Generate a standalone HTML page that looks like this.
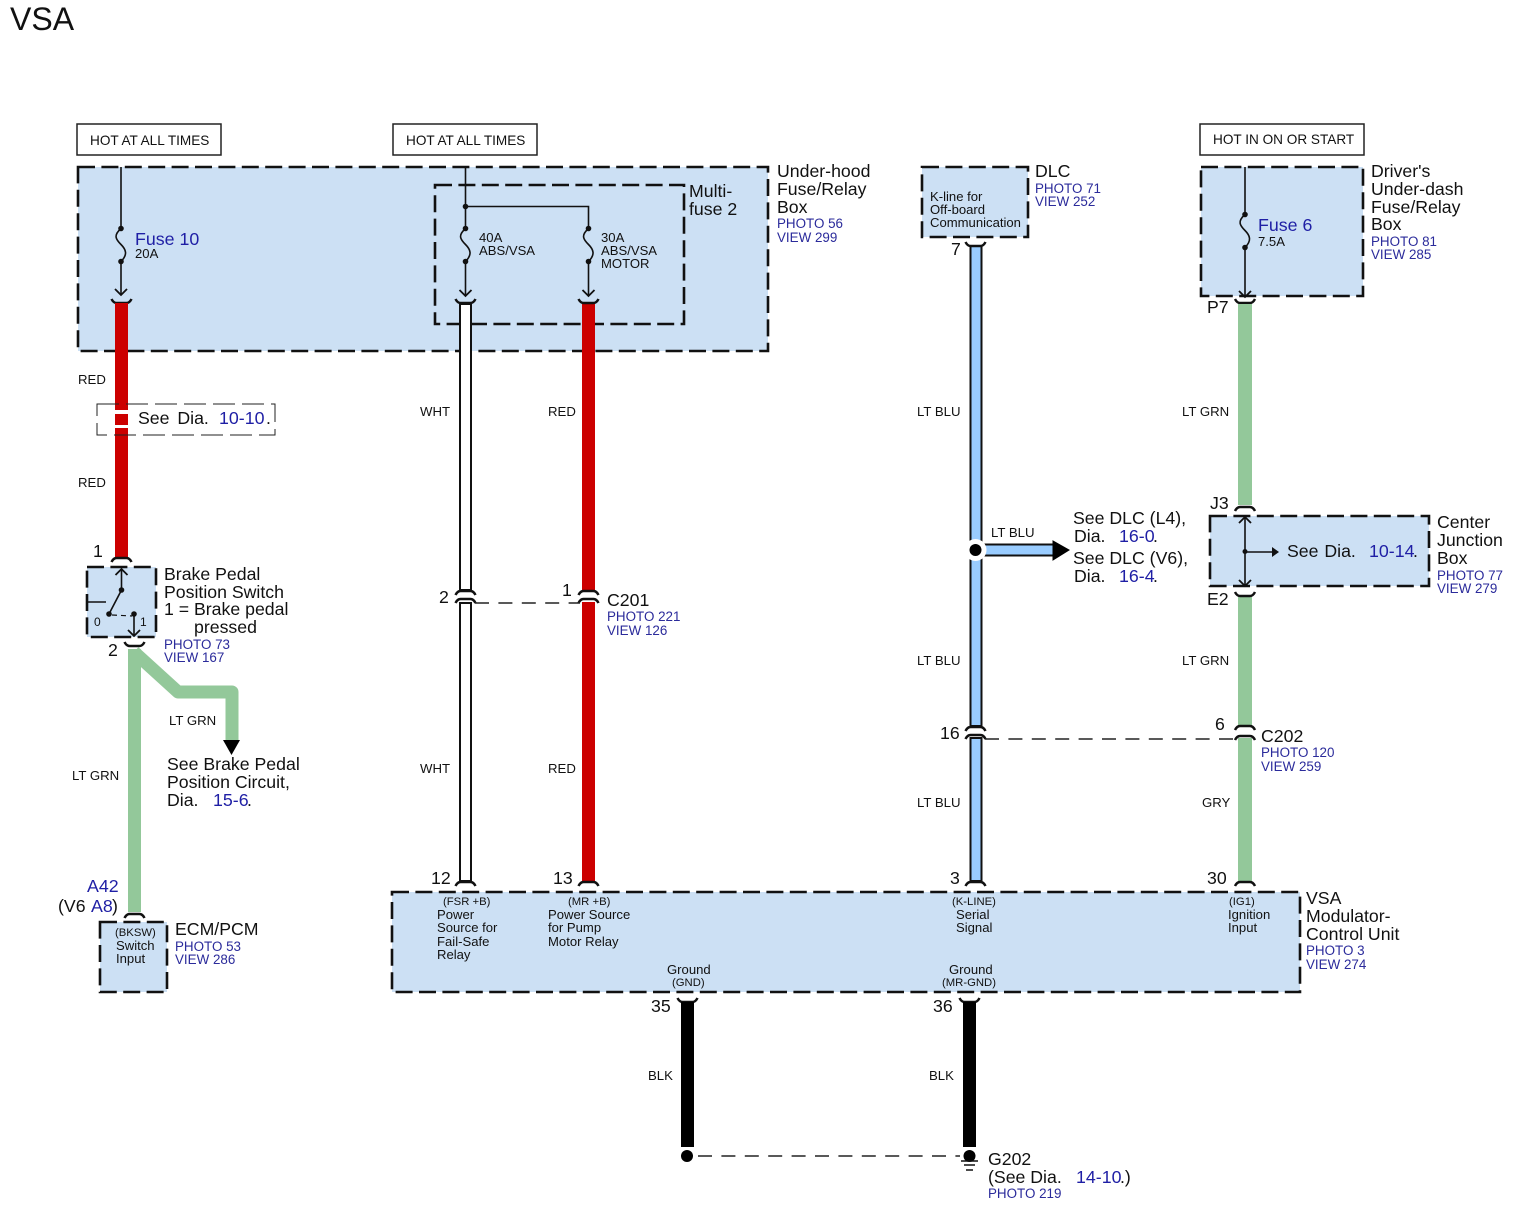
<!DOCTYPE html>
<html><head><meta charset="utf-8"><style>
html,body{margin:0;padding:0;background:#fff}
svg{display:block}
text{font-family:"Liberation Sans",sans-serif;fill:#111}
.l{font-size:17.7px}
.n{font-size:17.7px}
.p{font-size:13.4px;fill:#2b2b9b}
.w{font-size:13.2px}
.h{font-size:13.6px}
.s{font-size:13.1px}
.t{font-size:11.3px}
.b{fill:#1f1fa5;font-size:17.8px}
.box{fill:#cce0f4;stroke:#111;stroke-width:2.6;stroke-dasharray:17 6.4}
.open{fill:none;stroke:#111;stroke-width:2.6;stroke-dasharray:17 6.4}
.ln{fill:none;stroke:#111;stroke-width:1.6}
.dash{fill:none;stroke:#222;stroke-width:1.6;stroke-dasharray:14 9.4}
.cap{fill:none;stroke:#111;stroke-width:2.5}
</style></head><body>
<svg width="1519" height="1207" viewBox="0 0 1519 1207" xmlns="http://www.w3.org/2000/svg">
<defs>
<path id="sm" class="cap" d="M-10 -3Q-8 1 -5 1H5Q8 1 10 -3"/>
<path id="fr" class="cap" d="M-10 3Q-8 -1 -5 -1H5Q8 -1 10 3"/>
<g id="fuse"><circle cx="0" cy="0" r="2.8" fill="#111"/><circle cx="0" cy="33" r="2.8" fill="#111"/><path class="ln" d="M0 0C-8 7 -5 11 0 16C5 21 7 26 0 33"/></g>
<path id="ah" d="M-6 -6L0 0L6 -6" fill="none" stroke="#111" stroke-width="1.8"/>
</defs>
<text x="10" y="30" style="font-size:32px">VSA</text>

<!-- Header boxes -->
<rect x="77" y="124" width="144" height="31" fill="#fff" stroke="#222" stroke-width="1.5"/>
<text class="h" x="90" y="145">HOT AT ALL TIMES</text>
<rect x="393" y="124" width="144" height="31" fill="#fff" stroke="#222" stroke-width="1.5"/>
<text class="h" x="406" y="145">HOT AT ALL TIMES</text>
<rect x="1200" y="124" width="164" height="31" fill="#fff" stroke="#222" stroke-width="1.5"/>
<text class="h" x="1213" y="144">HOT IN ON OR START</text>

<!-- Boxes -->
<rect class="box" x="78" y="167" width="690" height="184"/>
<rect class="open" x="435" y="185" width="249" height="139"/>
<rect class="box" x="922" y="167" width="106" height="70"/>
<rect class="box" x="1201" y="167" width="162" height="129"/>
<rect class="box" x="1210" y="516" width="219" height="70"/>
<rect class="box" x="87" y="567" width="69" height="70"/>
<rect class="box" x="100" y="922" width="67" height="70"/>
<rect class="box" x="392" y="892" width="908" height="100"/>

<!-- Fuse 10 -->
<path class="ln" d="M121 167V228M121 262V295"/><use href="#fuse" x="121" y="228.500"/><use href="#ah" x="121" y="295"/>
<text x="135" y="245" class="b">Fuse 10</text>
<text class="s" x="135" y="258">20A</text>
<use href="#sm" x="121.500" y="302"/>
<!-- Red wire 1 -->
<rect x="115" y="303" width="13" height="255" fill="#cc0000"/>
<rect x="113" y="410" width="17" height="4" fill="#fff"/>
<rect x="113" y="425" width="17" height="3" fill="#fff"/>
<path d="M97 404H275V435H97Z" fill="none" stroke="#222" stroke-width="1" stroke-dasharray="22 7"/>
<rect x="131" y="408" width="140" height="22" fill="#fff"/>
<text class="n" x="138" y="424" word-spacing="3">See Dia.</text><text x="219" y="424" class="b">10-10</text><text class="n" x="266" y="424">.</text>
<text class="w" x="78" y="384">RED</text>
<text class="w" x="78" y="487">RED</text>

<!-- Multi-fuse wiring -->
<path class="ln" d="M465.500 167V228M465.500 262V296M465.500 206.500H588.500V228M588.500 262V296"/>
<circle cx="465.500" cy="206.500" r="2.800" fill="#111"/>
<use href="#fuse" x="465.500" y="228.500"/><use href="#fuse" x="588.500" y="228.500"/>
<use href="#ah" x="465.500" y="296"/><use href="#ah" x="588.500" y="296"/>
<text class="s" x="479" y="242">40A</text><text class="s" x="479" y="255">ABS/VSA</text>
<text class="s" x="601" y="242">30A</text><text class="s" x="601" y="255">ABS/VSA</text><text class="s" x="601" y="268">MOTOR</text>
<text class="l" x="689" y="197">Multi-</text><text class="l" x="689" y="215">fuse 2</text>
<text class="l" x="777" y="177">Under-hood</text><text class="l" x="777" y="195">Fuse/Relay</text><text class="l" x="777" y="213">Box</text>
<text class="p" x="777" y="228">PHOTO 56</text><text class="p" x="777" y="242">VIEW 299</text>

<!-- White wire -->
<rect x="460" y="304" width="11" height="286" fill="#fff" stroke="#111" stroke-width="2"/>
<rect x="460" y="603" width="11" height="278" fill="#fff" stroke="#111" stroke-width="2"/>
<use href="#sm" x="465.500" y="302"/><use href="#fr" x="465.500" y="592"/><use href="#fr" x="465.500" y="600"/><use href="#fr" x="465.500" y="883"/>
<!-- Red wire 2 -->
<rect x="582" y="303" width="13" height="287" fill="#cc0000"/>
<rect x="582" y="602" width="13" height="279" fill="#cc0000"/>
<use href="#sm" x="588.500" y="302"/><use href="#fr" x="588.500" y="592"/><use href="#fr" x="588.500" y="600"/><use href="#fr" x="588.500" y="883"/>
<path class="dash" d="M475 603H580"/>
<text class="n" x="439" y="603">2</text><text class="n" x="562" y="596">1</text>
<text class="l" x="607" y="606">C201</text><text class="p" x="607" y="621">PHOTO 221</text><text class="p" x="607" y="635">VIEW 126</text>
<text class="w" x="420" y="416">WHT</text><text class="w" x="548" y="416">RED</text>
<text class="w" x="420" y="773">WHT</text><text class="w" x="548" y="773">RED</text>
<text class="n" x="431" y="884">12</text><text class="n" x="553" y="884">13</text>

<!-- Brake switch -->
<use href="#fr" x="121.500" y="559"/>
<text class="n" x="93" y="557">1</text>
<path class="ln" d="M121.500 569V590L109 614M88 602H106M134 614V636"/>
<path d="M115.500 575L121.500 569L127.500 575M128 630L134 636L140 630" fill="none" stroke="#111" stroke-width="1.800"/>
<circle cx="121.500" cy="590" r="2.800" fill="#111"/><circle cx="109" cy="614" r="2.800" fill="#111"/><circle cx="134" cy="614" r="2.800" fill="#111"/>
<path d="M112 615L132 616" fill="none" stroke="#111" stroke-width="1.200" stroke-dasharray="5 4"/>
<text x="94" y="626" style="font-size:12px">0</text><text x="140" y="626" style="font-size:12px">1</text>
<text class="l" x="164" y="580">Brake Pedal</text><text class="l" x="164" y="598">Position Switch</text><text class="l" x="164" y="615">1 = Brake pedal</text><text class="l" x="194" y="633">pressed</text>
<text class="p" x="164" y="649">PHOTO 73</text><text class="p" x="164" y="662">VIEW 167</text>
<text class="n" x="108" y="656">2</text>
<use href="#sm" x="134.500" y="645"/>
<!-- Green left -->
<rect x="128" y="649" width="13" height="263" fill="#93c89a"/>
<path d="M134 652L178 692H232V742" fill="none" stroke="#93c89a" stroke-width="13" stroke-linejoin="round"/>
<path d="M223 740H240L231.500 755Z" fill="#000"/>
<text class="w" x="169" y="725">LT GRN</text><text class="w" x="72" y="780">LT GRN</text>
<text class="l" x="167" y="770">See Brake Pedal</text><text class="l" x="167" y="788">Position Circuit,</text>
<text class="l" x="167" y="806">Dia.</text><text x="213" y="806" class="b">15-6</text><text class="l" x="247" y="806">.</text>
<text x="87" y="892" class="b">A42</text>
<text class="l" x="58" y="912">(V6 </text><text x="91" y="912" class="b">A8</text><text class="l" x="112" y="912">)</text>
<use href="#fr" x="134.500" y="915"/>
<text class="t" x="115" y="936">(BKSW)</text><text class="s" x="116" y="950">Switch</text><text class="s" x="116" y="963">Input</text>
<text class="l" x="175" y="935">ECM/PCM</text><text class="p" x="175" y="951">PHOTO 53</text><text class="p" x="175" y="964">VIEW 286</text>

<!-- DLC -->
<text class="s" x="930" y="201">K-line for</text><text class="s" x="930" y="214">Off-board</text><text class="s" x="930" y="227">Communication</text>
<text class="l" x="1035" y="177">DLC</text><text class="p" x="1035" y="193">PHOTO 71</text><text class="p" x="1035" y="206">VIEW 252</text>
<text class="n" x="951" y="255">7</text>
<rect x="970.500" y="246" width="11" height="480" fill="#99ccff" stroke="#111" stroke-width="2"/>
<rect x="970.500" y="738" width="11" height="143" fill="#99ccff" stroke="#111" stroke-width="2"/>
<use href="#sm" x="975.500" y="245"/><use href="#fr" x="975.500" y="728"/><use href="#fr" x="975.500" y="736"/><use href="#fr" x="975.500" y="883"/>
<rect x="984" y="544.500" width="71" height="11" fill="#99ccff" stroke="#111" stroke-width="2"/>
<path d="M1053 541V560L1069 550Z" fill="#000" stroke="#000"/>
<circle cx="975.500" cy="550" r="11" fill="#fff"/><circle cx="975.500" cy="550" r="6" fill="#000"/>
<text class="w" x="991" y="537">LT BLU</text>
<text class="l" x="1073" y="524">See DLC (L4),</text><text class="l" x="1074" y="542">Dia.</text><text x="1119" y="542" class="b">16-0</text><text class="l" x="1153" y="542">.</text>
<text class="l" x="1073" y="564">See DLC (V6),</text><text class="l" x="1074" y="582">Dia.</text><text x="1119" y="582" class="b">16-4</text><text class="l" x="1153" y="582">.</text>
<text class="w" x="917" y="416">LT BLU</text><text class="w" x="917" y="665">LT BLU</text><text class="w" x="917" y="807">LT BLU</text>
<text class="n" x="940" y="739">16</text><text class="n" x="950" y="884">3</text>
<path class="dash" d="M985 739H1235"/>

<!-- Right side -->
<path class="ln" d="M1245 167V214M1245 248V296"/><use href="#fuse" x="1245" y="214.500"/><use href="#ah" x="1245" y="297"/>
<text x="1258" y="231" class="b">Fuse 6</text><text class="s" x="1258" y="246">7.5A</text>
<text class="l" x="1371" y="177">Driver's</text><text class="l" x="1371" y="195">Under-dash</text><text class="l" x="1371" y="213">Fuse/Relay</text><text class="l" x="1371" y="230">Box</text>
<text class="p" x="1371" y="246">PHOTO 81</text><text class="p" x="1371" y="259">VIEW 285</text>
<use href="#sm" x="1245" y="302"/>
<rect x="1238" y="304" width="14" height="201" fill="#93c89a"/>
<rect x="1238" y="597" width="14" height="129" fill="#93c89a"/>
<rect x="1238" y="738" width="14" height="143" fill="#93c89a"/>
<use href="#fr" x="1245" y="508"/><use href="#sm" x="1245" y="595"/><use href="#fr" x="1245" y="727"/><use href="#fr" x="1245" y="737"/><use href="#fr" x="1245" y="883"/>
<text class="n" x="1207" y="313">P7</text><text class="n" x="1210" y="509">J3</text><text class="n" x="1207" y="605">E2</text>
<path class="ln" d="M1245 517V586M1245 552H1276"/>
<path d="M1239 523L1245 517L1251 523M1239 580L1245 586L1251 580" fill="none" stroke="#111" stroke-width="1.800"/>
<path d="M1272 547L1279 552L1272 557Z" fill="#111"/>
<circle cx="1245" cy="551.500" r="2.500" fill="#111"/>
<text class="l" x="1287" y="557" word-spacing="1">See Dia.</text><text x="1369" y="557" class="b">10-14</text><text class="l" x="1413" y="557">.</text>
<text class="l" x="1437" y="528">Center</text><text class="l" x="1437" y="546">Junction</text><text class="l" x="1437" y="564">Box</text>
<text class="p" x="1437" y="580">PHOTO 77</text><text class="p" x="1437" y="593">VIEW 279</text>
<text class="w" x="1182" y="416">LT GRN</text><text class="w" x="1182" y="665">LT GRN</text><text class="w" x="1202" y="807">GRY</text>
<text class="n" x="1215" y="730">6</text><text class="n" x="1207" y="884">30</text>
<text class="l" x="1261" y="742">C202</text><text class="p" x="1261" y="757">PHOTO 120</text><text class="p" x="1261" y="771">VIEW 259</text>

<!-- VSA unit labels -->
<text class="t" x="443" y="905">(FSR +B)</text><text class="s" x="437" y="919">Power</text><text class="s" x="437" y="932">Source for</text><text class="s" x="437" y="946">Fail-Safe</text><text class="s" x="437" y="959">Relay</text>
<text class="t" x="568" y="905">(MR +B)</text><text class="s" x="548" y="919">Power Source</text><text class="s" x="548" y="932">for Pump</text><text class="s" x="548" y="946">Motor Relay</text>
<text class="t" x="952" y="905">(K-LINE)</text><text class="s" x="956" y="919">Serial</text><text class="s" x="956" y="932">Signal</text>
<text class="t" x="1229" y="905">(IG1)</text><text class="s" x="1228" y="919">Ignition</text><text class="s" x="1228" y="932">Input</text>
<text class="s" x="667" y="974">Ground</text><text class="t" x="672" y="986">(GND)</text>
<text class="s" x="949" y="974">Ground</text><text class="t" x="942" y="986">(MR-GND)</text>
<text class="l" x="1306" y="904">VSA</text><text class="l" x="1306" y="922">Modulator-</text><text class="l" x="1306" y="940">Control Unit</text>
<text class="p" x="1306" y="955">PHOTO 3</text><text class="p" x="1306" y="969">VIEW 274</text>

<!-- Grounds -->
<use href="#sm" x="687.500" y="1001"/><use href="#sm" x="969.500" y="1001"/>
<rect x="681" y="1002" width="13" height="145" fill="#000"/><rect x="963" y="1002" width="13" height="145" fill="#000"/>
<circle cx="687" cy="1156" r="6" fill="#000"/><circle cx="969.500" cy="1156" r="6" fill="#000"/>
<path class="dash" d="M698 1156H960"/>
<path d="M961 1161H978M964 1165H975M966 1170H973" stroke="#111" stroke-width="1.500" fill="none"/>
<text class="n" x="651" y="1012">35</text><text class="n" x="933" y="1012">36</text>
<text class="w" x="648" y="1080">BLK</text><text class="w" x="929" y="1080">BLK</text>
<text class="l" x="988" y="1165">G202</text><text class="l" x="988" y="1183">(See Dia.</text><text x="1076" y="1183" class="b">14-10</text><text class="l" x="1120" y="1183">.)</text>
<text class="p" x="988" y="1198">PHOTO 219</text>
</svg>
</body></html>
